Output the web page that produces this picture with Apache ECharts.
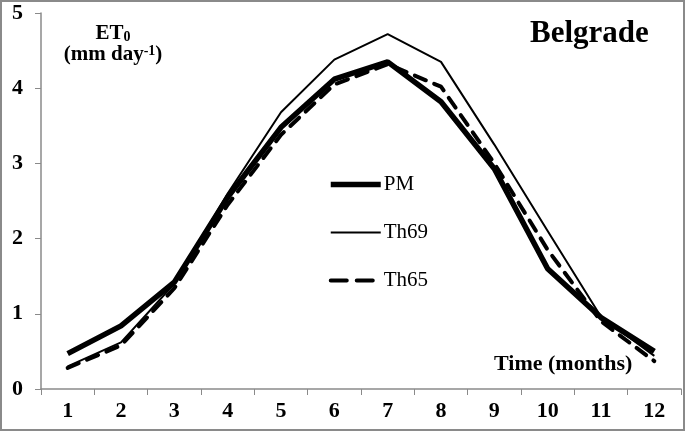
<!DOCTYPE html>
<html><head><meta charset="utf-8">
<script src="https://cdn.jsdelivr.net/npm/echarts@6/dist/echarts.min.js"></script>
<style>html,body{margin:0;padding:0;background:#fff}#c{width:685px;height:431px;box-sizing:border-box;border:2px solid #8a8a8a}</style>
</head><body><div id="c"></div>
<script>
const months = ['1','2','3','4','5','6','7','8','9','10','11','12'];
const pm   = [0.47, 0.84, 1.42, 2.55, 3.48, 4.12, 4.35, 3.82, 2.93, 1.6, 0.95, 0.5];
const th69 = [0.3, 0.62, 1.4, 2.6, 3.68, 4.38, 4.72, 4.35, 3.25, 2.1, 0.96, 0.44];
const th65 = [0.28, 0.58, 1.34, 2.45, 3.38, 4.05, 4.32, 4.02, 3.0, 1.85, 0.9, 0.37];
const yTicks = [0, 1, 2, 3, 4, 5];

const font = '"Liberation Serif","Times New Roman",serif';
const chart = echarts.init(document.getElementById('c'));
chart.setOption({
  animation: false,
  textStyle: {fontFamily: font},
  grid: {left: 39, right: 2, top: 11, bottom: 40},
  title: [
    {text: 'Belgrade', left: 523, top: 11, textStyle: {fontFamily: font, fontSize: 31, fontWeight: 'bold', color: '#000'}},
    {text: '{a|ET}{s|0}\n{a|(mm day}{p|-1}{a|)}', left: 106, top: 16, textAlign: 'center',
     textStyle: {fontFamily: font, align: 'center', lineHeight: 21, rich: {
       a: {fontFamily: font, fontSize: 21, fontWeight: 'bold', color: '#000', lineHeight: 21},
       s: {fontFamily: font, fontSize: 14, fontWeight: 'bold', color: '#000', verticalAlign: 'bottom', padding: [10,0,0,0], lineHeight: 21},
       p: {fontFamily: font, fontSize: 14, fontWeight: 'bold', color: '#000', verticalAlign: 'top', padding: [0,0,10,0], lineHeight: 21}
     }}},
    {text: 'Time (months)', left: 487, top: 346, textStyle: {fontFamily: font, fontSize: 22, fontWeight: 'bold', color: '#000'}}
  ],
  legend: {
    orient: 'vertical', left: 321, top: 167, itemGap: 27, itemWidth: 50, itemHeight: 20,
    itemStyle: {opacity: 0},
    textStyle: {fontFamily: font, fontSize: 21, color: '#000', padding: [0,0,0,-2]},
    data: [
      {name: 'PM', lineStyle: {width: 5.5, color: '#000'}},
      {name: 'Th69', lineStyle: {width: 2, color: '#000'}},
      {name: 'Th65', lineStyle: {width: 4, color: '#000', type: [16, 10]}}
    ]
  },
  xAxis: {
    type: 'category', data: months, boundaryGap: true,
    axisLine: {lineStyle: {color: '#8a8a8a', width: 1.5}},
    axisTick: {show: true, length: 6, lineStyle: {color: '#8a8a8a'}},
    axisLabel: {fontFamily: font, fontSize: 22, fontWeight: 'bold', color: '#000', margin: 11}
  },
  yAxis: {
    type: 'value', min: yTicks[0], max: yTicks[yTicks.length-1], interval: 1,
    axisLine: {show: true, lineStyle: {color: '#8a8a8a', width: 1.5}},
    axisTick: {show: true, length: 6, lineStyle: {color: '#8a8a8a'}},
    splitLine: {show: false},
    axisLabel: {fontFamily: font, fontSize: 22, fontWeight: 'bold', color: '#000', margin: 18}
  },
  series: [
    {name: 'PM', type: 'line', data: pm, symbol: 'none', itemStyle: {color: '#000'}, lineStyle: {color: '#000', width: 5.5}, z: 3},
    {name: 'Th69', type: 'line', data: th69, symbol: 'none', itemStyle: {color: '#000'}, lineStyle: {color: '#000', width: 2}, z: 2},
    {name: 'Th65', type: 'line', data: th65, symbol: 'none', itemStyle: {color: '#000'}, lineStyle: {color: '#000', width: 4, type: [12, 9], cap: 'round'}, z: 4}
  ]
});
</script></body></html>
